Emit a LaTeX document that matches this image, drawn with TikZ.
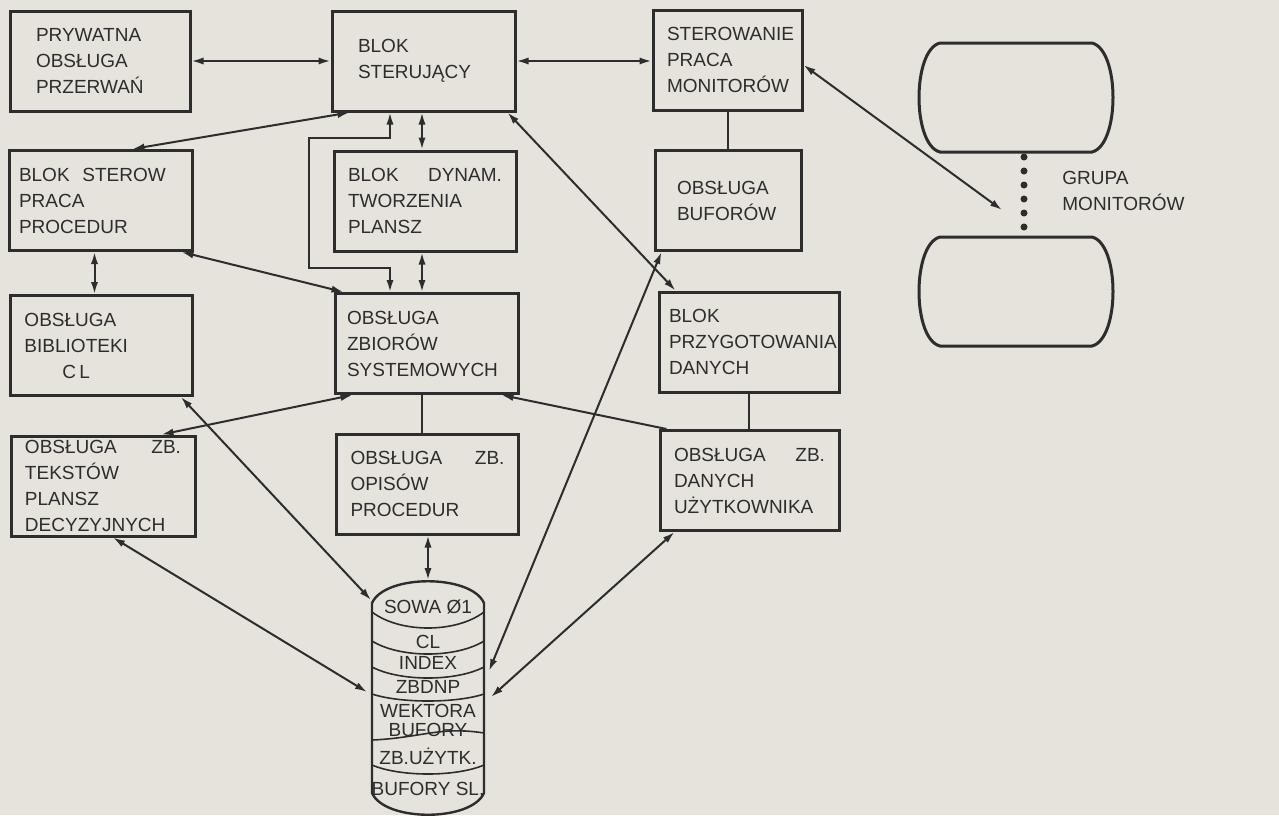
\documentclass[tikz,border=0pt]{standalone}
\usepackage{fontspec}
\setmainfont{Liberation Sans}
\usetikzlibrary{shapes,arrows,arrows.meta,positioning}
\definecolor{papier}{RGB}{229,227,219}
\definecolor{tusz}{RGB}{45,45,45}
\newcommand{\napis}{\fontsize{9.5}{13}\selectfont}
\tikzset{
	blok/.style={draw=tusz,line width=1.5pt,align=left,inner xsep=7pt,inner ysep=0pt,minimum height=50pt,text width=77pt,font=\napis,text=tusz},
	polacz/.style={draw=tusz,line width=1pt,<->},
	linia/.style={draw=tusz,line width=1pt},
	cylnapis/.style={font=\napis,text=tusz,inner sep=0pt}
}

\begin{document}
\begin{tikzpicture}[x=.5pt,y=-.5pt,>={Latex[length=6pt,width=3.6pt]}]
	\path[use as bounding box,fill=papier] (0,0) rectangle (1279,815);

	\node[blok,inner xsep=13pt,text width=64pt] (prz) at (100,61) {PRYWATNA\\OBSŁUGA\\PRZERWAŃ};
	\node[blok,inner xsep=13pt,text width=65.5pt] (ster) at (423.5,61) {BLOK\\STERUJĄCY};
	\node[blok,text width=60.5pt] (mon) at (727.5,60) {STEROWANIE\\PRACA\\MONITORÓW};
	\node[blok,inner xsep=5pt,text width=81.5pt] (proc) at (100.5,200.5) {BLOK~~STEROW\\PRACA\\PROCEDUR};
	\node[blok] (dyn) at (425,201) {BLOK\hfill DYNAM.\\TWORZENIA\\PLANSZ};
	\node[blok,inner xsep=11pt,text width=51pt] (buf) at (728,200.5) {OBSŁUGA\\BUFORÓW};
	\node[blok] (bib) at (101.5,345.5) {OBSŁUGA\\BIBLIOTEKI\\\hspace*{19pt}C\,L};
	\node[blok,inner xsep=6pt,text width=79.5pt] (zb) at (426.5,343.5) {OBSŁUGA\\ZBIORÓW\\SYSTEMOWYCH};
	\node[blok,inner xsep=5pt,text width=80pt] (prg) at (749,342) {BLOK\\PRZYGOTOWANIA\\DANYCH};
	\node[blok,text width=78pt] (tek) at (103,486) {OBSŁUGA\hfill ZB.\\TEKSTÓW\\PLANSZ\\DECYZYJNYCH};
	\node[blok] (opi) at (427.5,484) {OBSŁUGA\hfill ZB.\\OPISÓW\\PROCEDUR};
	\node[blok,text width=75.5pt] (uzy) at (749.5,480.5) {OBSŁUGA\hfill ZB.\\DANYCH\\UŻYTKOWNIKA};

	% baza danych
	\draw[tusz,line width=1.2pt] (372,603) .. controls (385,574) and (471,574) .. (484,603) -- (484,793) .. controls (471,822) and (385,822) .. (372,793) -- cycle;
	\foreach \ye/\yc in {612/628,641/654,667/678,694/701,765/774} \draw[tusz,thick] (372,\ye) .. controls (400,{\ye+4/3*(\yc-\ye)}) and (456,{\ye+4/3*(\yc-\ye)}) .. (484,\ye);
	\draw[tusz,thick] (372,740) .. controls (420,738) and (440,726) .. (484,733);
	\foreach \t/\y [count=\i] in {SOWA Ø1/607,CL/642,INDEX/663,ZBDNP/687,WEKTORA/711,BUFORY/730,ZB.UŻYTK./756,BUFORY SL./789} \node[cylnapis] (war\i) at (428,\y) {\t};

	% monitory
	\draw[tusz,line width=1.5pt] (940,43) -- (1092,43) .. controls (1120,50) and (1120,145) .. (1092,152) -- (940,152) .. controls (912,145) and (912,50) .. (940,43) -- cycle;
	\draw[tusz,line width=1.5pt] (940,237) -- (1092,237) .. controls (1120,244) and (1120,339) .. (1092,346) -- (940,346) .. controls (912,339) and (912,244) .. (940,237) -- cycle;
	\foreach \y in {0,...,5} \fill[tusz] (1024,157+14*\y) circle (1.75pt);
	\node[cylnapis,align=left,anchor=west] (grupanapis) at (1062,191) {GRUPA\\MONITORÓW};

	\coordinate (xl) at (390,0);
	\coordinate (xr) at (422,0);
	\coordinate (pa) at (309,138);
	\coordinate (pb) at (309,268);
	\coordinate (cylgora) at (428,580);
	\coordinate (cylbib) at (371,600);
	\coordinate (cyltek) at (367,692);
	\coordinate (cylbuf) at (489,671);
	\coordinate (cyluzy) at (491,697);
	\coordinate (grupa) at (1002,210);

	\draw[polacz] (prz.east) -- (prz.east -| ster.west);
	\draw[polacz] (ster.east) -- (ster.east -| mon.west);
	\draw[polacz] ([xshift=-37pt]ster.south) -- ([xshift=16pt]proc.north);
	\draw[polacz] (ster.south -| xl) |- (pa) -- (pb) -| (zb.north -| xl);
	\draw[polacz] (ster.south -| xr) -- (dyn.north -| xr);
	\draw[polacz] (dyn.south -| xr) -- (zb.north -| xr);
	\draw[polacz] ([xshift=-3pt]proc.south) -- ([xshift=-3pt]proc.south |- bib.north);
	\draw[polacz] ([xshift=-6pt]proc.south east) -- ([xshift=5pt]zb.north west);
	\draw[polacz] ([xshift=9.5pt]zb.south west) -- ([xshift=-17.5pt]tek.north east);
	\draw[linia,->] ([xshift=4pt]uzy.north west) -- ([xshift=-9pt]zb.south east);
	\draw[linia] (zb.south -| xr) -- (opi.north -| xr);
	\draw[polacz] (opi.south -| cylgora) -- (cylgora);
	\draw[polacz] ([xshift=-4.5pt]ster.south east) -- ([xshift=9pt]prg.north west);
	\draw[polacz] ([xshift=4pt]buf.south west) -- (cylbuf);
	\draw[polacz] ([xshift=8pt]uzy.south west) -- (cyluzy);
	\draw[polacz] ([xshift=-6.5pt]bib.south east) -- (cylbib);
	\draw[polacz] ([xshift=5pt]tek.south) -- (cyltek);
	\draw[linia] (mon.south) -- (mon.south |- buf.north);
	\draw[linia] (prg.south) -- (prg.south |- uzy.north);
	\draw[polacz] ([yshift=-2.5pt]mon.east) -- (grupa);
\end{tikzpicture}
\end{document}
